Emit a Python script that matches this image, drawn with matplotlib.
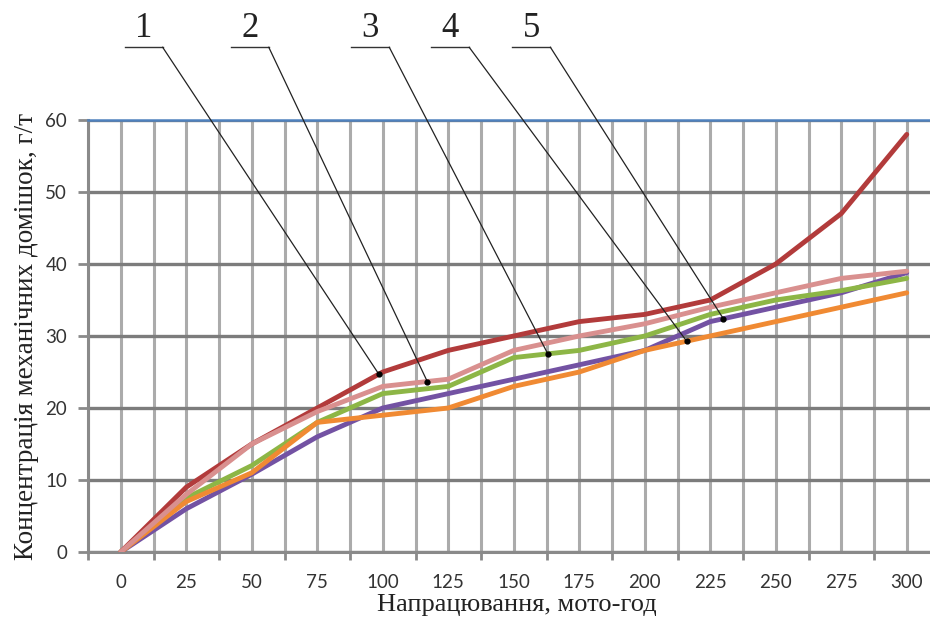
import numpy as np
import matplotlib
matplotlib.use("Agg")
import matplotlib.pyplot as plt

# Operating time, motor-hours
hours = [0, 25, 50, 75, 100, 125, 150, 175, 200, 225, 250, 275, 300]

# Concentration of mechanical impurities, g/t
series_1 = [0, 9, 15, 20, 25, 28, 30, 32, 33, 35, 40, 47, 58]
series_2 = [0, 8, 15, 19.5, 23, 24, 28, 30, 31.7, 34, 36, 38, 39]
series_3 = [0, 7.5, 12, 18, 22, 23, 27, 28, 30, 33, 35, 36.3, 38]
series_4 = [0, 7, 11, 18, 19, 20, 23, 25, 28, 30, 32, 34, 36]
series_5 = [0, 6, 10.8, 16, 20, 22, 24, 26, 28, 32, 34, 36, 38.8]

limit_value = 60
curve_labels = ["1", "2", "3", "4", "5"]
# x positions (motor-hours) where each numbered leader touches its curve
leader_hours = [98.5, 117, 163, 216, 230]

x_title = "Напрацювання, мото-год"
y_title = "Концентрація механічних домішок, г/т"

c1 = "#b23b3b"
c2 = "#d9908f"
c3 = "#8db646"
c4 = "#f08a33"
c5 = "#7352a3"

fig = plt.figure(figsize=(9.30, 6.17), dpi=100)
ax = fig.add_axes([88 / 930, 65 / 617, 851.5 / 930, 432 / 617])

ax.set_xlim(-12.5, 312.5)
ax.set_ylim(0, 60)

# grid
ax.set_xticks(hours)
ax.set_xticklabels([str(h) for h in hours])
ax.set_xticks(np.arange(-12.5, 313, 25), minor=True)
ax.tick_params(axis="x", which="major", length=0, pad=16,
               labelsize=13.5, labelcolor="#333333")
ax.tick_params(axis="x", which="minor", length=6, width=2, color="#8a8a8a",
               direction="out")
ax.set_yticks(np.arange(0, 61, 10))
ax.tick_params(axis="y", length=7, width=2, color="#8a8a8a", pad=8,
               labelsize=13.5, labelcolor="#333333")
for lab in ax.get_xticklabels() + ax.get_yticklabels():
    lab.set_family(["Lato", "DejaVu Sans"])

ax.grid(True, axis="x", which="both", color="#ababab", linewidth=2.2, zorder=0)
ax.grid(True, axis="y", which="major", color="#7c7c7c", linewidth=2.4, zorder=0)
ax.set_axisbelow(True)

for side in ["top", "right"]:
    ax.spines[side].set_visible(False)
ax.spines["left"].set_color("#8a8a8a")
ax.spines["left"].set_linewidth(2.2)
ax.spines["bottom"].set_color("#8a8a8a")
ax.spines["bottom"].set_linewidth(2.2)

ax.axhline(limit_value, color="#4f81bd", linewidth=1.8, clip_on=False, zorder=3)

lw = 3.5
ax.plot(hours, series_5, color=c5, lw=lw, zorder=4, solid_capstyle="round")
ax.plot(hours, series_3, color=c3, lw=lw, zorder=4, solid_capstyle="round")
ax.plot(hours, series_4, color=c4, lw=lw, zorder=5, solid_capstyle="round")
ax.plot(hours, series_1, color=c1, lw=lw, zorder=5, solid_capstyle="round")
ax.plot(hours, series_2, color=c2, lw=lw, zorder=6, solid_capstyle="round")

# numbered leaders
curves = [series_1, series_2, series_3, series_4, series_5]
label_left = [1.5, 42, 88, 118.5, 149.5]
bar_len = 14.5
bar_y = 70.1
for name, xh, ys, xl in zip(curve_labels, leader_hours, curves, label_left):
    yh = np.interp(xh, hours, ys)
    xr = xl + bar_len
    ax.plot([xl, xr], [bar_y, bar_y], color="#333333", lw=1.0,
            clip_on=False, zorder=7)
    ax.plot([xr, xh], [bar_y, yh], color="#222222", lw=0.9,
            clip_on=False, zorder=7)
    ax.plot([xh], [yh], marker="o", ms=3.5, color="black", zorder=8)
    ax.text(xl + bar_len / 2, bar_y + 0.3, name, ha="center", va="bottom",
            fontsize=25, family="Liberation Serif", color="#222222")

fig.text(517 / 930, 1 - 605 / 617, x_title, ha="center", va="center",
         fontsize=19, family="Liberation Serif", color="#222222")
fig.text(27 / 930, 1 - 336 / 617, y_title, ha="center", va="center",
         rotation=90, fontsize=19.5, family="Liberation Serif", color="#222222")

fig.savefig("out.png", dpi=100)
